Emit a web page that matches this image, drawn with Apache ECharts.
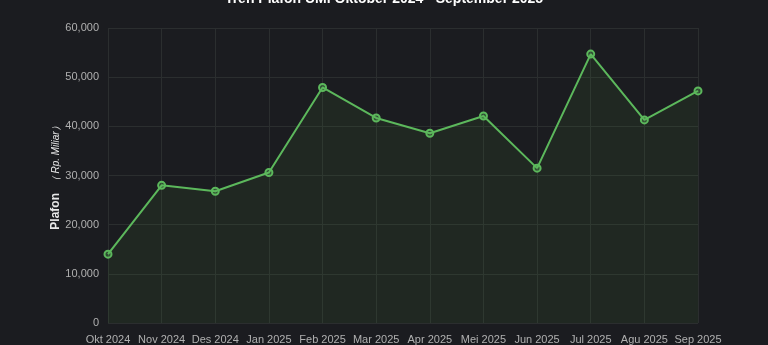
<!DOCTYPE html>
<html><head><meta charset="utf-8">
<script src="https://cdn.jsdelivr.net/npm/echarts@6/dist/echarts.min.js"></script>
<style>html,body{margin:0;padding:0;background:#1b1c20;}#c{width:768px;height:345px;}</style>
</head><body><div id="c"></div>
<script>
const titleText = "Tren Plafon UMi Oktober 2024 - September 2025";
const categories = ["Okt 2024","Nov 2024","Des 2024","Jan 2025","Feb 2025","Mar 2025","Apr 2025","Mei 2025","Jun 2025","Jul 2025","Agu 2025","Sep 2025"];
const plafon = [14000, 28000, 26800, 30600, 47900, 41700, 38600, 42100, 31500, 54700, 41300, 47200];
const yTicks = [0, 10000, 20000, 30000, 40000, 50000, 60000];

const chart = echarts.init(document.getElementById('c'), null, {renderer:'canvas'});
chart.setOption({
  backgroundColor: '#1b1c20',
  animation: false,
  title: {
    text: titleText, left: 'center', top: -13,
    textStyle: {color: '#ffffff', fontSize: 14, fontWeight: 'bold', fontFamily: 'Liberation Sans'}
  },
  grid: {left: 108, right: 70, top: 28, bottom: 21, containLabel: false},
  xAxis: {
    type: 'category', data: categories, boundaryGap: false,
    axisLine: {show: false}, axisTick: {show: false},
    axisLabel: {color: '#b0b0b0', fontSize: 11, margin: 11, fontFamily: 'Liberation Sans', interval: 0},
    splitLine: {show: true, lineStyle: {color: '#2b2e2f', width: 1}}
  },
  yAxis: {
    type: 'value', min: yTicks[0], max: yTicks[yTicks.length-1], interval: 10000,
    name: '{a|Plafon}  {b|（ Rp. Miliar）}', nameLocation: 'middle', nameGap: 46, nameRotate: 90,
    nameMoveOverlap: false,
    nameTextStyle: {
      color: '#e8e8e8', fontFamily: 'Liberation Sans',
      rich: {a: {fontSize: 12, fontWeight: 600, color: '#e8e8e8'}, b: {fontSize: 10, fontStyle: 'italic', color: '#e8e8e8'}}
    },
    axisLine: {show: false}, axisTick: {show: false},
    axisLabel: {color: '#b0b0b0', fontSize: 11, margin: 9, fontFamily: 'Liberation Sans',
      formatter: v => v.toLocaleString('en-US')},
    splitLine: {show: true, lineStyle: {color: '#2b2e2f', width: 1}}
  },
  series: [{
    type: 'line', data: plafon,
    symbol: 'circle', symbolSize: 7,
    lineStyle: {color: '#5cb85c', width: 2},
    itemStyle: {color: 'rgba(92,184,92,0.3)', borderColor: '#5cb85c', borderWidth: 2},
    areaStyle: {color: 'rgba(76,140,60,0.15)'}
  }]
});
</script></body></html>
